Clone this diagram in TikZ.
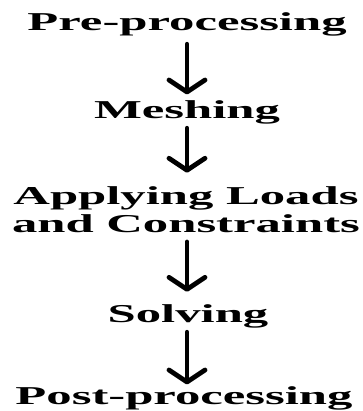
\documentclass[tikz,border=0pt]{standalone}
\usepackage{fontspec}
\usepackage{tikz}
\usetikzlibrary{arrows.meta,positioning}
\newfontfamily\stagefont{Liberation Serif}[FakeStretch=1.97]

\begin{document}
\begin{tikzpicture}[
x=0.75pt, y=-0.75pt,
stage/.style={inner sep=0pt, anchor=base, text height=13.5pt, text depth=4.5pt,
  font=\stagefont\bfseries\fontsize{19.3}{21}\selectfont},
flow/.style={line width=3.6pt, line cap=round,
  -{Straight Barb[length=9pt,width=27pt,line cap=round,line join=round]}}
]
    % Fix the page size
    \useasboundingbox (0,0) rectangle (362,411);

    % Stages
    \node[stage] (pre) at (187,30) {Pre-processing};
    \node[stage] (mesh) at (187,118) {Meshing};
    \node[stage, anchor=north, text height=, text depth=, align=center]
        (loads) at (186,186) {Applying Loads\\and Constraints};
    \node[stage] (solve) at (188,322) {Solving};
    \node[stage] (post) at (184,404) {Post-processing};

    % Arrows between stages
    \draw[flow, shorten <=6pt, shorten >=4pt] (pre.south) -- (mesh.north -| pre.south);
    \draw[flow, shorten <=3pt, shorten >=10pt] (mesh.south) -- (loads.north -| mesh.south);
    \draw[flow, shorten <=7pt, shorten >=9pt] (loads.south -| mesh.south) -- (solve.north -| mesh.south);
    \draw[flow, shorten <=3pt, shorten >=1pt] (solve.south -| mesh.south) -- (post.north -| mesh.south);

\end{tikzpicture}
\end{document}
